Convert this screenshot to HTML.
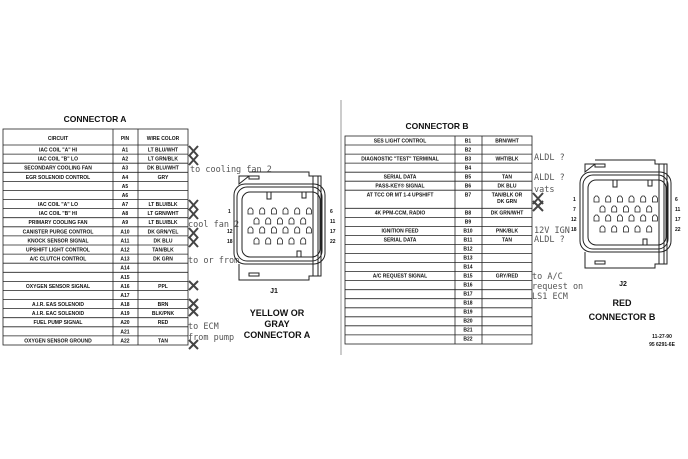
<!DOCTYPE html>
<html><head><meta charset="utf-8"><style>
html,body{margin:0;padding:0;background:#fff;width:688px;height:459px;overflow:hidden}
svg{display:block}
.t{font-family:"Liberation Sans",sans-serif;font-weight:bold;fill:#111}
.s{font-size:5px}
.h{font-family:"DejaVu Sans Mono","Liberation Mono",monospace;font-size:8.5px;fill:#555}
</style></head><body>
<svg width="688" height="459" viewBox="0 0 688 459" xmlns="http://www.w3.org/2000/svg">
<defs>
<g id="pin"><path d="M0,2 L1.5,0 L3.5,0 L5,2 L5,6 L0,6 Z" fill="none" stroke="#222" stroke-width="0.8"/></g>
<g id="conn" fill="none" stroke="#222" stroke-width="1">
<path d="M12,0 L72,0 L72,4 L84,4 L84,104 L72,104 L72,108 L2,108 L2,92 M2,12 L2,4 L12,4 Z"/>
<line x1="76" y1="4" x2="76" y2="104"/><line x1="81" y1="4" x2="81" y2="104"/>
<rect x="-3" y="12" width="91" height="80" rx="11"/>
<rect x="0" y="15" width="85" height="74" rx="10"/>
<rect x="5" y="20" width="78" height="65" rx="8"/>
<rect x="12" y="4" width="10" height="3"/><rect x="12" y="101" width="10" height="3"/>
<path d="M30,20 L30,27 L34,27 L34,20 M65,20 L65,26 L69,26 L69,20 M60,85 L60,79 L64,79 L64,85"/>
</g>
</defs>

<!-- CONNECTOR A -->
<text class="t" x="95" y="122" font-size="8.5" text-anchor="middle">CONNECTOR A</text>
<g stroke="#222" stroke-width="0.8" fill="none">
<rect x="3" y="129" width="185" height="216"/>
<line x1="113" y1="129" x2="113" y2="345"/><line x1="138" y1="129" x2="138" y2="345"/>
<line x1="3" y1="145" x2="188" y2="145"/>
<line x1="3" y1="154.1" x2="188" y2="154.1"/><line x1="3" y1="163.2" x2="188" y2="163.2"/><line x1="3" y1="172.3" x2="188" y2="172.3"/><line x1="3" y1="181.4" x2="188" y2="181.4"/><line x1="3" y1="190.5" x2="188" y2="190.5"/><line x1="3" y1="199.5" x2="188" y2="199.5"/><line x1="3" y1="208.6" x2="188" y2="208.6"/><line x1="3" y1="217.7" x2="188" y2="217.7"/><line x1="3" y1="226.8" x2="188" y2="226.8"/><line x1="3" y1="235.9" x2="188" y2="235.9"/><line x1="3" y1="245" x2="188" y2="245"/><line x1="3" y1="254.1" x2="188" y2="254.1"/><line x1="3" y1="263.2" x2="188" y2="263.2"/><line x1="3" y1="272.3" x2="188" y2="272.3"/><line x1="3" y1="281.4" x2="188" y2="281.4"/><line x1="3" y1="290.5" x2="188" y2="290.5"/><line x1="3" y1="299.5" x2="188" y2="299.5"/><line x1="3" y1="308.6" x2="188" y2="308.6"/><line x1="3" y1="317.7" x2="188" y2="317.7"/><line x1="3" y1="326.8" x2="188" y2="326.8"/><line x1="3" y1="335.9" x2="188" y2="335.9"/>
</g>
<g class="t s" text-anchor="middle">
<text x="58" y="140">CIRCUIT</text><text x="125" y="140">PIN</text><text x="163" y="140">WIRE COLOR</text>
<text x="58" y="151.5">IAC COIL "A" HI</text><text x="125" y="151.5">A1</text><text x="163" y="151.5">LT BLU/WHT</text>
<text x="58" y="160.6">IAC COIL "B" LO</text><text x="125" y="160.6">A2</text><text x="163" y="160.6">LT GRN/BLK</text>
<text x="58" y="169.7">SECONDARY COOLING FAN</text><text x="125" y="169.7">A3</text><text x="163" y="169.7">DK BLU/WHT</text>
<text x="58" y="178.8">EGR SOLENOID CONTROL</text><text x="125" y="178.8">A4</text><text x="163" y="178.8">GRY</text>
<text x="125" y="187.9">A5</text><text x="125" y="197">A6</text>
<text x="58" y="206">IAC COIL "A" LO</text><text x="125" y="206">A7</text><text x="163" y="206">LT BLU/BLK</text>
<text x="58" y="215.1">IAC COIL "B" HI</text><text x="125" y="215.1">A8</text><text x="163" y="215.1">LT GRN/WHT</text>
<text x="58" y="224.2">PRIMARY COOLING FAN</text><text x="125" y="224.2">A9</text><text x="163" y="224.2">LT BLU/BLK</text>
<text x="58" y="233.3">CANISTER PURGE CONTROL</text><text x="125" y="233.3">A10</text><text x="163" y="233.3">DK GRN/YEL</text>
<text x="58" y="242.4">KNOCK SENSOR SIGNAL</text><text x="125" y="242.4">A11</text><text x="163" y="242.4">DK BLU</text>
<text x="58" y="251.5">UPSHIFT LIGHT CONTROL</text><text x="125" y="251.5">A12</text><text x="163" y="251.5">TAN/BLK</text>
<text x="58" y="260.6">A/C CLUTCH CONTROL</text><text x="125" y="260.6">A13</text><text x="163" y="260.6">DK GRN</text>
<text x="125" y="269.7">A14</text><text x="125" y="278.8">A15</text>
<text x="58" y="287.9">OXYGEN SENSOR SIGNAL</text><text x="125" y="287.9">A16</text><text x="163" y="287.9">PPL</text>
<text x="125" y="297">A17</text>
<text x="58" y="306">A.I.R. EAS SOLENOID</text><text x="125" y="306">A18</text><text x="163" y="306">BRN</text>
<text x="58" y="315.1">A.I.R. EAC SOLENOID</text><text x="125" y="315.1">A19</text><text x="163" y="315.1">BLK/PNK</text>
<text x="58" y="324.2">FUEL PUMP SIGNAL</text><text x="125" y="324.2">A20</text><text x="163" y="324.2">RED</text>
<text x="125" y="333.3">A21</text>
<text x="58" y="342.4">OXYGEN SENSOR GROUND</text><text x="125" y="342.4">A22</text><text x="163" y="342.4">TAN</text>
</g>

<!-- X marks A -->
<g stroke="#444" stroke-width="2" fill="none">
<path d="M189,146 L198,156 M198,146 L189,156 M189,155 L198,165 M198,155 L189,165"/>
<path d="M189,200 L198,210 M198,200 L189,210 M189,209 L198,219 M198,209 L189,219"/>
<path d="M189,228 L198,238 M198,228 L189,238 M189,237 L198,247 M198,237 L189,247"/>
<path d="M189,281 L198,290 M198,281 L189,290"/>
<path d="M189,299 L198,308 M198,299 L189,308 M189,307 L198,316 M198,307 L189,316"/>
<path d="M189,340 L198,349 M198,340 L189,349"/>
</g>
<g class="h">
<text x="190" y="172">to cooling fan 2</text>
<text x="188" y="227">cool fan 2</text>
<text x="188" y="263">to or from</text>
<text x="188" y="329">to ECM</text>
<text x="188" y="340">from pump</text>
</g>

<!-- J1 -->
<use href="#conn" x="237" y="172"/>
<g transform="translate(237,172)">
<use href="#pin" x="11" y="36"/><use href="#pin" x="22.7" y="36"/><use href="#pin" x="34.4" y="36"/><use href="#pin" x="46" y="36"/><use href="#pin" x="57.7" y="36"/><use href="#pin" x="69.4" y="36"/>
<use href="#pin" x="17" y="46"/><use href="#pin" x="28.7" y="46"/><use href="#pin" x="40.4" y="46"/><use href="#pin" x="52" y="46"/><use href="#pin" x="63.7" y="46"/>
<use href="#pin" x="11" y="55"/><use href="#pin" x="22.7" y="55"/><use href="#pin" x="34.4" y="55"/><use href="#pin" x="46" y="55"/><use href="#pin" x="57.7" y="55"/><use href="#pin" x="69.4" y="55"/>
<use href="#pin" x="17" y="66"/><use href="#pin" x="28.7" y="66"/><use href="#pin" x="40.4" y="66"/><use href="#pin" x="52" y="66"/><use href="#pin" x="63.7" y="66"/>
<g class="t s"><text x="-9" y="41">1</text><text x="-10" y="61">12</text><text x="-10" y="71">18</text><text x="93" y="41">6</text><text x="93" y="51">11</text><text x="93" y="61">17</text><text x="93" y="71">22</text></g>
</g>
<text class="t" x="274" y="293" font-size="7" text-anchor="middle">J1</text>
<g class="t" font-size="9" text-anchor="middle"><text x="277" y="316">YELLOW OR</text><text x="277" y="327">GRAY</text><text x="277" y="338">CONNECTOR A</text></g>

<line x1="341" y1="100" x2="341" y2="355" stroke="#999" stroke-width="1"/>

<!-- CONNECTOR B -->
<text class="t" x="437" y="129" font-size="8.5" text-anchor="middle">CONNECTOR B</text>
<g stroke="#222" stroke-width="0.8" fill="none">
<rect x="345" y="136" width="187" height="208"/>
<line x1="455" y1="136" x2="455" y2="344"/><line x1="482" y1="136" x2="482" y2="344"/>
<line x1="345" y1="145" x2="532" y2="145"/><line x1="345" y1="154.1" x2="532" y2="154.1"/><line x1="345" y1="163.1" x2="532" y2="163.1"/><line x1="345" y1="172.2" x2="532" y2="172.2"/><line x1="345" y1="181.2" x2="532" y2="181.2"/><line x1="345" y1="190.2" x2="532" y2="190.2"/><line x1="345" y1="208.3" x2="532" y2="208.3"/><line x1="345" y1="217.4" x2="532" y2="217.4"/><line x1="345" y1="226.4" x2="532" y2="226.4"/><line x1="345" y1="235.4" x2="532" y2="235.4"/><line x1="345" y1="244.5" x2="532" y2="244.5"/><line x1="345" y1="253.5" x2="532" y2="253.5"/><line x1="345" y1="262.6" x2="532" y2="262.6"/><line x1="345" y1="271.6" x2="532" y2="271.6"/><line x1="345" y1="280.6" x2="532" y2="280.6"/><line x1="345" y1="289.7" x2="532" y2="289.7"/><line x1="345" y1="298.7" x2="532" y2="298.7"/><line x1="345" y1="307.8" x2="532" y2="307.8"/><line x1="345" y1="316.8" x2="532" y2="316.8"/><line x1="345" y1="325.8" x2="532" y2="325.8"/><line x1="345" y1="334.9" x2="532" y2="334.9"/>
</g>
<g class="t s" text-anchor="middle">
<text x="400" y="142.5">SES LIGHT CONTROL</text><text x="468" y="142.5">B1</text><text x="507" y="142.5">BRN/WHT</text>
<text x="468" y="151.5">B2</text>
<text x="400" y="160.5">DIAGNOSTIC "TEST" TERMINAL</text><text x="468" y="160.5">B3</text><text x="507" y="160.5">WHT/BLK</text>
<text x="468" y="169.5">B4</text>
<text x="400" y="178.5">SERIAL DATA</text><text x="468" y="178.5">B5</text><text x="507" y="178.5">TAN</text>
<text x="400" y="187.5">PASS-KEY® SIGNAL</text><text x="468" y="187.5">B6</text><text x="507" y="187.5">DK BLU</text>
<text x="400" y="196.5">AT TCC OR MT 1-4 UPSHIFT</text><text x="468" y="196.5">B7</text><text x="507" y="196.5">TAN/BLK OR</text><text x="507" y="203">DK GRN</text>
<text x="400" y="214.5">4K PPM-CCM, RADIO</text><text x="468" y="214.5">B8</text><text x="507" y="214.5">DK GRN/WHT</text>
<text x="468" y="223.5">B9</text>
<text x="400" y="232.5">IGNITION FEED</text><text x="468" y="232.5">B10</text><text x="507" y="232.5">PNK/BLK</text>
<text x="400" y="241.5">SERIAL DATA</text><text x="468" y="241.5">B11</text><text x="507" y="241.5">TAN</text>
<text x="468" y="250.5">B12</text><text x="468" y="259.5">B13</text><text x="468" y="268.5">B14</text>
<text x="400" y="277.5">A/C REQUEST SIGNAL</text><text x="468" y="277.5">B15</text><text x="507" y="277.5">GRY/RED</text>
<text x="468" y="286.5">B16</text><text x="468" y="295.5">B17</text><text x="468" y="304.5">B18</text><text x="468" y="313.5">B19</text><text x="468" y="322.5">B20</text><text x="468" y="331.5">B21</text><text x="468" y="340.5">B22</text>
</g>
<g stroke="#444" stroke-width="2" fill="none"><path d="M533,193 L543,204 M543,193 L533,204 M533,201 L543,211 M543,201 L533,211"/></g>
<g class="h">
<text x="534" y="160">ALDL ?</text>
<text x="534" y="180">ALDL ?</text>
<text x="534" y="192">vats</text>
<text x="534" y="233">12V IGN</text>
<text x="534" y="242">ALDL ?</text>
<text x="532" y="279">to A/C</text>
<text x="532" y="289">request on</text>
<text x="532" y="299">LS1 ECM</text>
</g>

<!-- J2 -->
<use href="#conn" x="583" y="160"/>
<g transform="translate(583,160)">
<use href="#pin" x="11" y="36"/><use href="#pin" x="22.7" y="36"/><use href="#pin" x="34.4" y="36"/><use href="#pin" x="46" y="36"/><use href="#pin" x="57.7" y="36"/><use href="#pin" x="69.4" y="36"/>
<use href="#pin" x="17" y="46"/><use href="#pin" x="28.7" y="46"/><use href="#pin" x="40.4" y="46"/><use href="#pin" x="52" y="46"/><use href="#pin" x="63.7" y="46"/>
<use href="#pin" x="11" y="55"/><use href="#pin" x="22.7" y="55"/><use href="#pin" x="34.4" y="55"/><use href="#pin" x="46" y="55"/><use href="#pin" x="57.7" y="55"/><use href="#pin" x="69.4" y="55"/>
<use href="#pin" x="17" y="66"/><use href="#pin" x="28.7" y="66"/><use href="#pin" x="40.4" y="66"/><use href="#pin" x="52" y="66"/><use href="#pin" x="63.7" y="66"/>
<g class="t s"><text x="-10" y="41">1</text><text x="-10" y="51">7</text><text x="-12" y="61">12</text><text x="-12" y="71">18</text><text x="92" y="41">6</text><text x="92" y="51">11</text><text x="92" y="61">17</text><text x="92" y="71">22</text></g>
</g>
<text class="t" x="623" y="286" font-size="7" text-anchor="middle">J2</text>
<g class="t" font-size="9" text-anchor="middle"><text x="622" y="306">RED</text><text x="622" y="320">CONNECTOR B</text></g>
<g class="t s" text-anchor="middle"><text x="662" y="338">11-27-90</text><text x="662" y="346">95 6291-6E</text></g>
</svg>
</body></html>
